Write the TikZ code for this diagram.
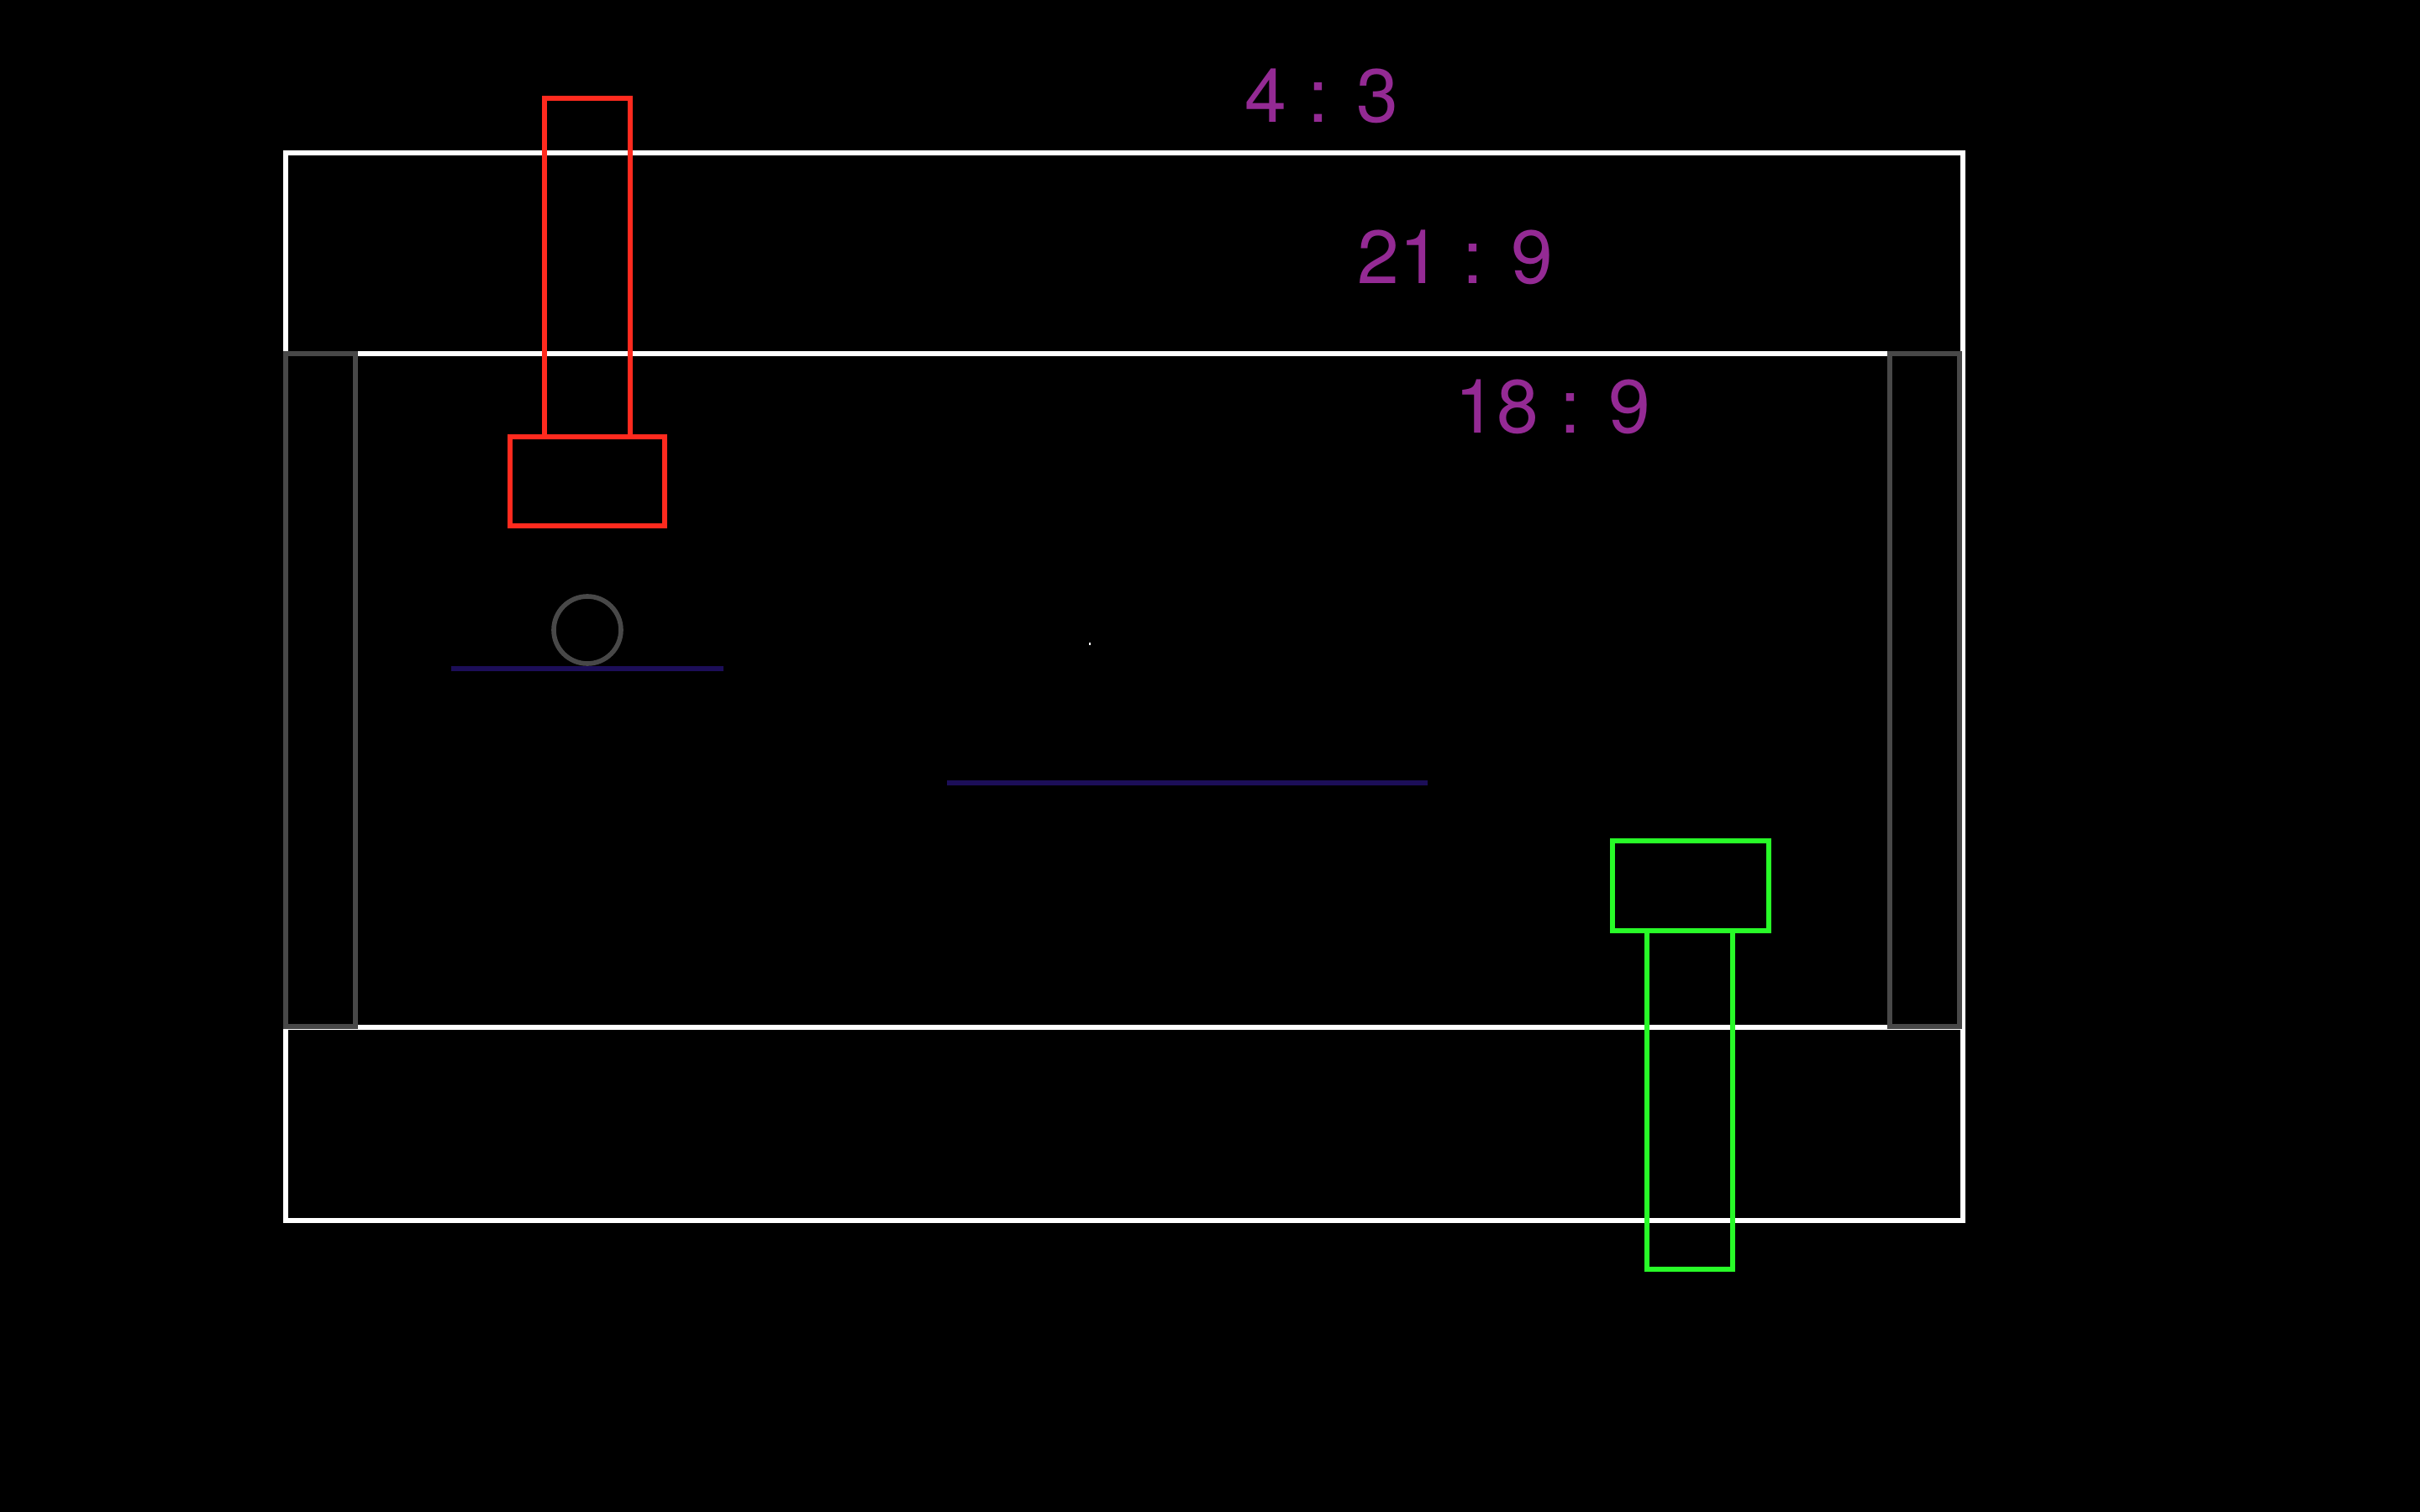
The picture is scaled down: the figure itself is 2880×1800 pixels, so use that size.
\documentclass[tikz,border=0pt]{standalone}
\usepackage{fontspec}
\setmainfont{TeX Gyre Heros}
\definecolor{ratio}{RGB}{148,42,148}
\definecolor{pred}{RGB}{255,42,30}
\definecolor{pgreen}{RGB}{40,250,40}
\definecolor{pgray}{RGB}{72,72,72}
\definecolor{pblue}{RGB}{28,14,88}
\tikzset{
  frameline/.style={draw=white, line width=1.5pt},
  sidebar/.style={draw=pgray, line width=1.8pt},
  redpart/.style={draw=pred, line width=1.7pt},
  greenpart/.style={draw=pgreen, line width=1.7pt},
  floorline/.style={draw=pblue, line width=1.8pt},
  ball/.style={draw=pgray, line width=1.6pt},
  ratiotext/.style={text=ratio, inner sep=0pt, font=\fontsize{25.5}{30}\selectfont}
}
\begin{document}
\begin{tikzpicture}[x=0.01cm, y=-0.01cm]
\fill[black] (0,0) rectangle (2880,1800);
\useasboundingbox (0,0) rectangle (2880,1800);
% frame
\draw[frameline] (340,182) rectangle (2336,1453);
\draw[frameline] (340,421) -- (2336,421);
\draw[frameline] (340,1223) -- (2336,1223);
% side bars
\draw[sidebar] (340,421) rectangle (423,1222);
\draw[sidebar] (2249,421) rectangle (2332,1222);
% red paddle
\draw[redpart] (648,117) rectangle (750,520);
\draw[redpart] (607,520) rectangle (791,626);
% green paddle
\draw[greenpart] (1960,1108) rectangle (2062,1511);
\draw[greenpart] (1919,1001) rectangle (2105,1108);
% ball and floor lines
\draw[ball] (699,750) circle (40);
\draw[floorline] (537,796) -- (861,796);
\draw[floorline] (1127,932) -- (1699,932);
\fill[white] (1296,765) rectangle (1298,768);
% texts
\node[ratiotext] (r43) at (1573,114) {4 : 3};
\node[ratiotext] (r219) at (1732,306) {21 : 9};
\node[ratiotext] (r189) at (1848,484) {18 : 9};
\end{tikzpicture}
\end{document}
